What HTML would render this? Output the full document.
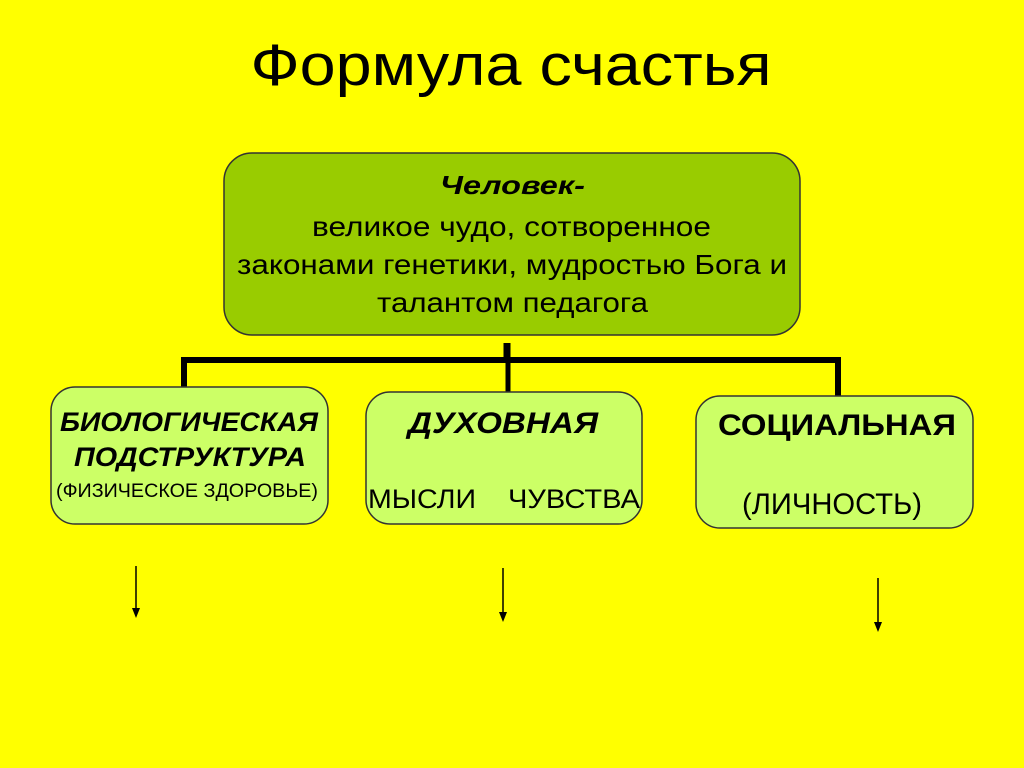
<!DOCTYPE html>
<html><head><meta charset="utf-8"><style>
html,body{margin:0;padding:0;background:#ffff00;}
svg{display:block;}
text{font-family:"Liberation Sans",Arial,sans-serif;fill:#000;}
</style></head><body>
<svg width="1024" height="768" viewBox="0 0 1024 768" xmlns="http://www.w3.org/2000/svg">
<rect width="1024" height="768" fill="#ffff00"/>
<text x="511" y="85" font-size="58" textLength="521" lengthAdjust="spacingAndGlyphs" text-anchor="middle">Формула счастья</text>

<rect x="224" y="153" width="576" height="182" rx="28" fill="#99cc00" stroke="#333" stroke-width="1.5"/>
<text x="440" y="194" font-size="26" font-weight="bold" font-style="italic" textLength="145" lengthAdjust="spacingAndGlyphs">Человек-</text>
<text x="312" y="236" font-size="28" textLength="399" lengthAdjust="spacingAndGlyphs">великое чудо, сотворенное</text>
<text x="237" y="274" font-size="28" textLength="550" lengthAdjust="spacingAndGlyphs">законами генетики, мудростью Бога и</text>
<text x="377" y="312" font-size="28" textLength="271" lengthAdjust="spacingAndGlyphs">талантом педагога</text>

<g stroke="#000" fill="none">
<line x1="507" y1="343" x2="507" y2="362" stroke-width="7"/>
<polyline points="184,389 184,360 838,360 838,397" stroke-width="6"/>
<line x1="508" y1="360" x2="508" y2="393" stroke-width="5"/>
</g>

<rect x="51" y="387" width="277" height="137" rx="24" fill="#ccff66" stroke="#333" stroke-width="1.5"/>
<rect x="366" y="392" width="276" height="132" rx="24" fill="#ccff66" stroke="#333" stroke-width="1.5"/>
<rect x="696" y="396" width="277" height="132" rx="24" fill="#ccff66" stroke="#333" stroke-width="1.5"/>

<g font-weight="bold" font-style="italic" font-size="27">
<text x="60" y="431" textLength="258" lengthAdjust="spacingAndGlyphs">БИОЛОГИЧЕСКАЯ</text>
<text x="74" y="466" textLength="232" lengthAdjust="spacingAndGlyphs">ПОДСТРУКТУРА</text>
<text x="408" y="433" font-size="30" textLength="190" lengthAdjust="spacingAndGlyphs">ДУХОВНАЯ</text>
</g>
<text x="718" y="435" font-weight="bold" font-size="30" textLength="238" lengthAdjust="spacingAndGlyphs">СОЦИАЛЬНАЯ</text>
<text x="56" y="497" font-size="19" textLength="262" lengthAdjust="spacingAndGlyphs">(ФИЗИЧЕСКОЕ ЗДОРОВЬЕ)</text>
<text x="368" y="508" font-size="27" textLength="108" lengthAdjust="spacingAndGlyphs">МЫСЛИ</text>
<text x="508" y="508" font-size="27" textLength="132" lengthAdjust="spacingAndGlyphs">ЧУВСТВА</text>
<text x="742" y="514" font-size="30" textLength="180" lengthAdjust="spacingAndGlyphs">(ЛИЧНОСТЬ)</text>

<g stroke="#000" stroke-width="1.5">
<line x1="136" y1="566" x2="136" y2="610"/>
<line x1="503" y1="568" x2="503" y2="614"/>
<line x1="878" y1="578" x2="878" y2="624"/>
</g>
<g fill="#000">
<polygon points="132,608 140,608 136,618"/>
<polygon points="499,612 507,612 503,622"/>
<polygon points="874,622 882,622 878,632"/>
</g>
</svg>
</body></html>
